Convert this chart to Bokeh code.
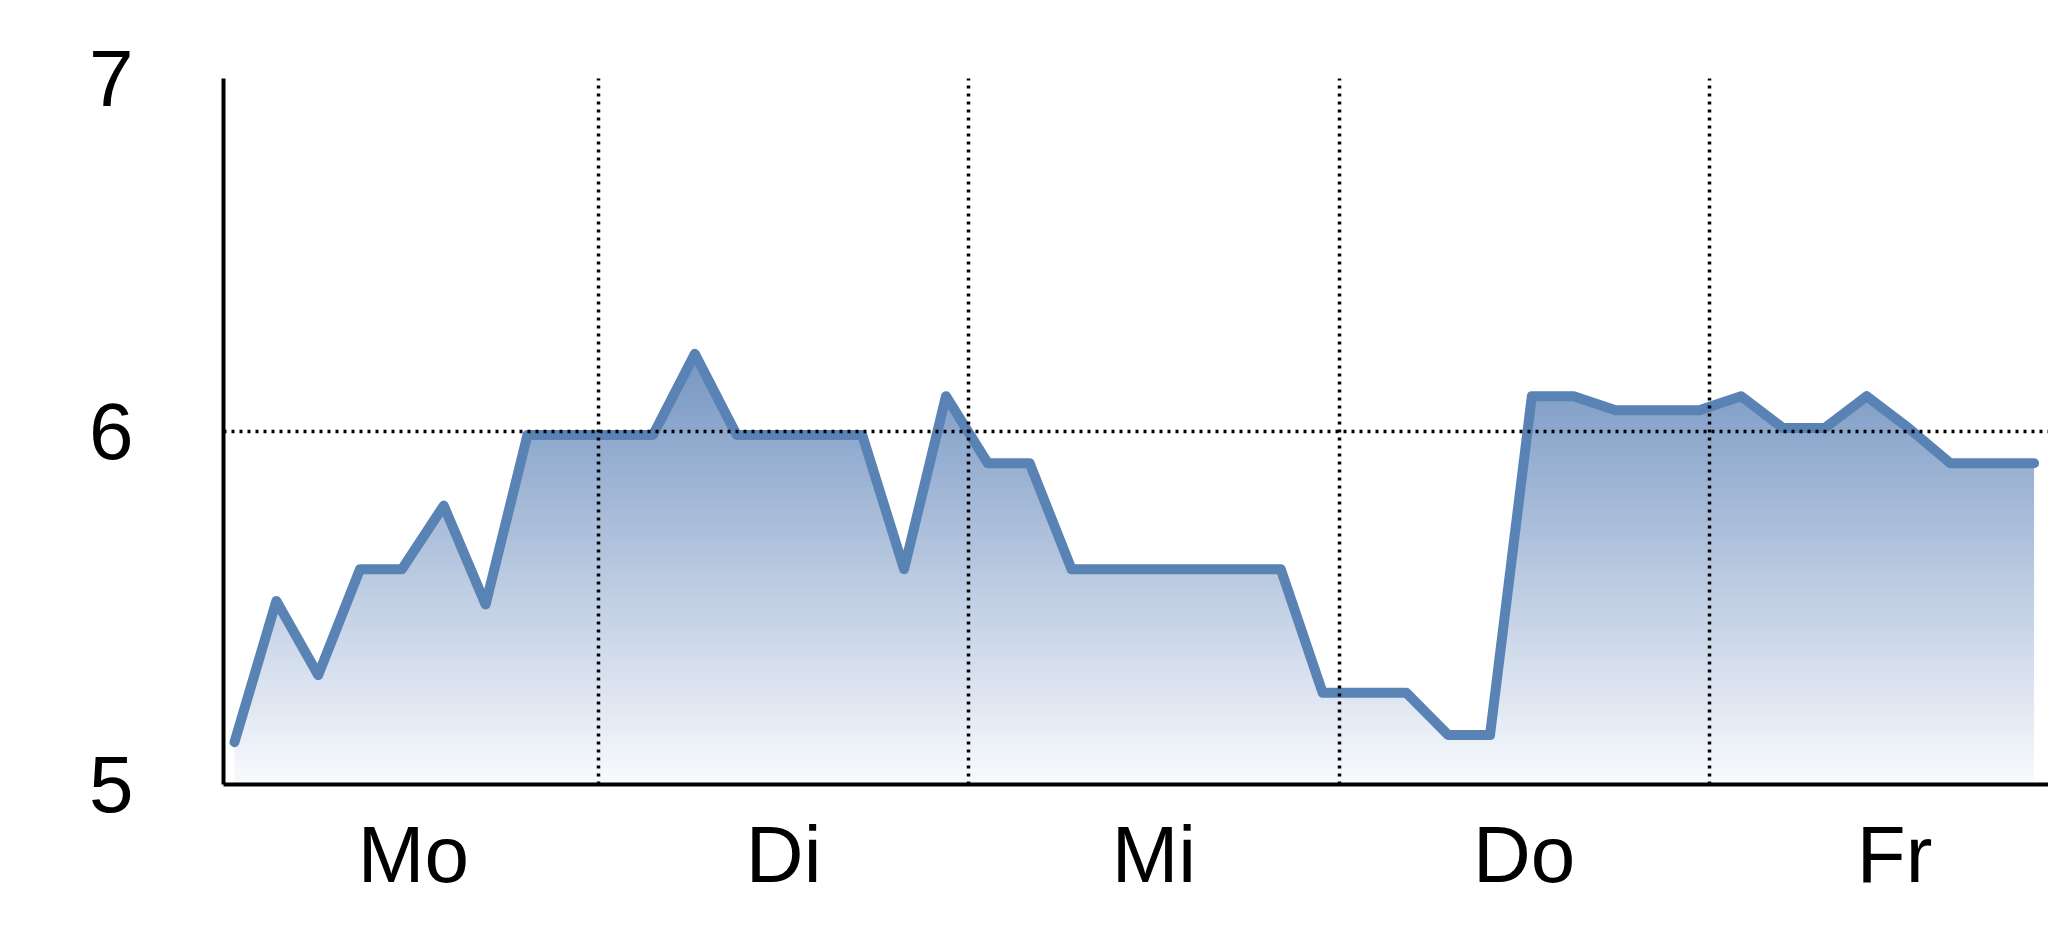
import numpy as np
from bokeh.plotting import figure
from bokeh.models import Range1d, FixedTicker, LinearAxis, Grid
from bokeh.embed import file_html
from bokeh.resources import INLINE

# ---- data ----
days = ["Mo", "Di", "Mi", "Do", "Fr"]
values = [5.12, 5.52, 5.31, 5.61, 5.61, 5.79, 5.51, 5.99, 5.99, 5.99,
          5.99, 6.22, 5.99, 5.99, 5.99, 5.99, 5.61, 6.10, 5.91, 5.91,
          5.61, 5.61, 5.61, 5.61, 5.61, 5.61, 5.26, 5.26, 5.26, 5.14,
          5.14, 6.10, 6.10, 6.06, 6.06, 6.06, 6.10, 6.01, 6.01, 6.10,
          6.01, 5.91, 5.91, 5.91]
y_ticks = [5, 6, 7]

idx = np.arange(len(values))
vals = np.array(values)

W, H = 2048, 930
p = figure(width=W, height=H, output_backend="svg", toolbar_location=None,
           x_range=Range1d(-0.0127, 4.9158), y_range=Range1d(5, 7),
           min_border_left=223, min_border_top=78, min_border_bottom=H - 784,
           min_border_right=0, x_axis_location=None, y_axis_location=None)
p.extra_x_ranges = {"idx": Range1d(-0.2628, 43.345)}
p.outline_line_color = None
p.background_fill_color = "white"
p.border_fill_color = "white"
p.grid.visible = False

# gradient fill (bands) under the line, then white mask above the line
top_col = np.array([118, 150, 194])
bot_col = np.array([249, 250, 253])
vmax = vals.max()
n = 160
edges = np.linspace(5, vmax, n + 1)
band_h = edges[1] - edges[0]
cols = []
for k in range(n):
    t = (edges[k] + band_h / 2 - 5) / (vmax - 5)
    c = bot_col + (top_col - bot_col) * t
    cols.append("#%02x%02x%02x" % tuple(int(round(v)) for v in c))
p.quad(left=[idx[0]] * n, right=[idx[-1]] * n, bottom=edges[:-1],
       top=edges[:-1] + band_h * 1.6, fill_color=cols, line_color=None,
       x_range_name="idx")
mask_x = np.concatenate([[idx[0] - 0.5], idx, [idx[-1] + 0.5]])
mask_y = np.concatenate([[vals[0]], vals, [vals[-1]]])
p.varea(x=mask_x, y1=mask_y, y2=[7] * len(mask_x), fill_color="white",
        x_range_name="idx")

p.line(x=idx, y=vals, line_color="#5a83b5", line_width=10,
       line_join="round", line_cap="round", x_range_name="idx")

# axes
font = "Liberation Sans"
xaxis = LinearAxis(ticker=FixedTicker(ticks=[i + 0.5 for i in range(len(days))]),
                   major_label_overrides={i + 0.5: d for i, d in enumerate(days)})
yaxis = LinearAxis(ticker=FixedTicker(ticks=y_ticks))
for ax in (xaxis, yaxis):
    ax.axis_line_color = "black"
    ax.axis_line_width = 4
    ax.major_tick_line_color = None
    ax.minor_tick_line_color = None
    ax.major_label_text_font = font
    ax.major_label_text_font_size = "80px"
    ax.major_label_text_color = "black"
xaxis.major_label_standoff = 19
yaxis.major_label_standoff = 84
p.add_layout(xaxis, "below")
p.add_layout(yaxis, "left")

xg = Grid(dimension=0, ticker=FixedTicker(ticks=[1, 2, 3, 4]),
          grid_line_color="black", grid_line_width=3.5, grid_line_dash="3 5",
          level="annotation")
yg = Grid(dimension=1, ticker=FixedTicker(ticks=[6]),
          grid_line_color="black", grid_line_width=3.5, grid_line_dash="3 5",
          level="annotation")
p.add_layout(xg)
p.add_layout(yg)

open("out.html", "w").write(file_html(p, INLINE))
